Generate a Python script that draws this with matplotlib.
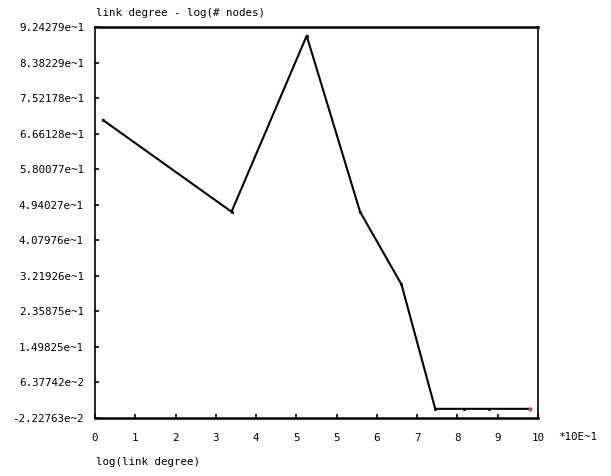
import matplotlib
matplotlib.use("Agg")
import matplotlib.pyplot as plt
import numpy as np

# values (x in units of 10E-1)
x_vals = [0.0, 3.01, 4.77, 6.02, 6.99, 7.78, 8.45, 9.03, 10.0]
y_vals = [0.699, 0.477, 0.903, 0.477, 0.301, 0.0, 0.0, 0.0, 0.0]

x_tick_labels = ["0", "1", "2", "3", "4", "5", "5", "6", "7", "8", "9", "10"]
y_tick_labels = ["-2.22763e~2", "6.37742e~2", "1.49825e~1", "2.35875e~1",
                 "3.21926e~1", "4.07976e~1", "4.94027e~1", "5.80077e~1",
                 "6.66128e~1", "7.52178e~1", "8.38229e~1", "9.24279e~1"]

title = "link degree - log(# nodes)"
x_title = "log(link degree)"
x_unit = "*10E~1"

plt.rcParams['font.family'] = ['DejaVu Sans Mono']
fs = 7.8

fig = plt.figure(figsize=(6.11, 4.76), dpi=100)
ax = fig.add_axes([95/611, 1-418/476, 443/611, 391/476])

ax.plot(x_vals, y_vals, color="black", lw=1.5, marker="o", ms=1.2)
ax.plot(x_vals[-1:], y_vals[-1:], "o", color="#d8406a", ms=2.0)

xlo, xhi = -0.187, 10.187
ylo, yhi = -0.0222763, 0.924279
ax.set_xlim(xlo, xhi)
ax.set_ylim(ylo, yhi)
ax.set_xticks(np.linspace(xlo, xhi, len(x_tick_labels)))
ax.set_xticklabels(x_tick_labels, fontsize=fs)
ax.set_yticks(np.linspace(ylo, yhi, len(y_tick_labels)))
ax.set_yticklabels(y_tick_labels, fontsize=fs)
ax.tick_params(axis="both", direction="in", length=3, width=1.2, colors="black")
ax.tick_params(axis="x", pad=11)
ax.tick_params(axis="y", pad=8)

for side in ["top", "bottom"]:
    ax.spines[side].set_linewidth(1.8)
for side in ["left", "right"]:
    ax.spines[side].set_linewidth(1.2)

fig.text(96/611, 1-13/476, title, fontsize=fs, va="center", ha="left")
fig.text(96/611, 1-462/476, x_title, fontsize=fs, va="center", ha="left")
fig.text(558/611, 1-437/476, x_unit, fontsize=fs, va="center", ha="left")

fig.savefig("out.png", dpi=100)
